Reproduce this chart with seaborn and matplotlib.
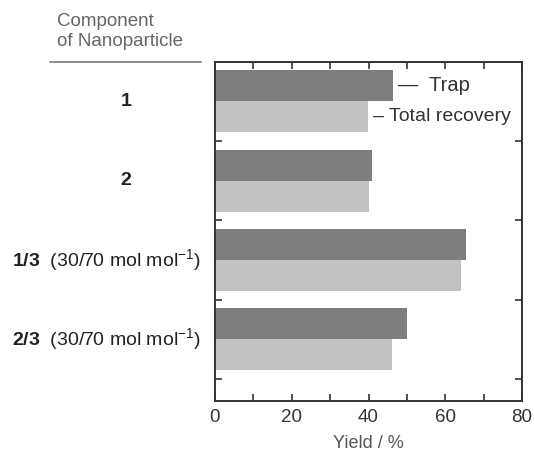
import matplotlib
matplotlib.use("Agg")
import matplotlib.pyplot as plt
from matplotlib.lines import Line2D
import matplotlib.transforms as mtransforms
import numpy as np
import pandas as pd
import seaborn as sns

# data
components = ["1", "2", "1/3", "2/3"]
trap = [46.5, 41.0, 65.3, 50.0]
total_recovery = [39.8, 40.0, 64.2, 46.0]
series = ["Trap", "Total recovery"]
comp_labels = [r"$\mathbf{1}$", r"$\mathbf{2}$",
               r"$\mathbf{1/3}$  (30/70 mol mol$^{-1}$)",
               r"$\mathbf{2/3}$  (30/70 mol mol$^{-1}$)"]
xticks = [0, 20, 40, 60, 80]

df = pd.DataFrame({
    "component": components * 2,
    "yield": trap + total_recovery,
    "series": [series[0]] * 4 + [series[1]] * 4,
})

sns.set_style("ticks")
plt.rcParams["font.family"] = ["Liberation Sans", "DejaVu Sans"]
plt.rcParams["mathtext.fontset"] = "custom"
plt.rcParams["mathtext.rm"] = "Liberation Sans"
plt.rcParams["mathtext.bf"] = "Liberation Sans:bold"
plt.rcParams["mathtext.it"] = "Liberation Sans:italic"

fig = plt.figure(figsize=(5.34, 4.55), dpi=100)
ax = fig.add_axes([0.4026, 0.1187, 0.575, 0.7457])

sns.barplot(data=df, x="yield", y="component", hue="series", orient="h",
            order=components, hue_order=series, width=0.78,
            palette=["#7e7e7e", "#c2c2c2"], saturation=1, linewidth=0,
            legend=False, ax=ax)

ax.set_xlim(0, 80)
ax.set_ylim(3.78, -0.5)
ax.set_xticks(xticks)
ax.set_xticks(np.arange(10, 80, 20), minor=True)
ax.set_yticks(np.arange(len(components)) + 0.5)
ax.set_yticklabels([])
ax.tick_params(axis="both", which="both", direction="in", top=True, right=True,
               length=5, width=1.2, color="#333333")
ax.tick_params(axis="x", labelsize=13.5, labelcolor="#333333", pad=6)
for s in ax.spines.values():
    s.set_linewidth(1.4)
    s.set_color("#333333")
ax.set_xlabel("Yield / %", fontsize=13, color="#555555", labelpad=6)
ax.set_ylabel("")

# category labels to the left of the axes
trans = mtransforms.blended_transform_factory(ax.transAxes, ax.transData)
for i, lab in enumerate(comp_labels):
    if i < 2:
        ax.text(-0.29, i, lab, transform=trans, ha="center", va="center",
                fontsize=14, color="#222222")
    else:
        ax.text(-0.661, i, lab, transform=trans, ha="left", va="center",
                fontsize=14, color="#222222")

# inline series labels beside first group
ax.annotate("—  Trap", xy=(trap[0], -0.195), xytext=(3, 0),
            textcoords="offset points", va="center", ha="left",
            fontsize=14.5, color="#333333")
ax.annotate("– Total recovery", xy=(total_recovery[0], 0.195), xytext=(4, 0),
            textcoords="offset points", va="center", ha="left",
            fontsize=14, color="#333333")

# header above the category labels
fig.text(57 / 534, 1 - 13 / 455, "Component\nof Nanoparticle", ha="left", va="top",
         fontsize=13.5, color="#666666", linespacing=1.2)
fig.add_artist(Line2D([50 / 534, 201 / 534], [1 - 62 / 455] * 2,
                      color="#777777", linewidth=1.2))

fig.savefig("out.png", dpi=100)
